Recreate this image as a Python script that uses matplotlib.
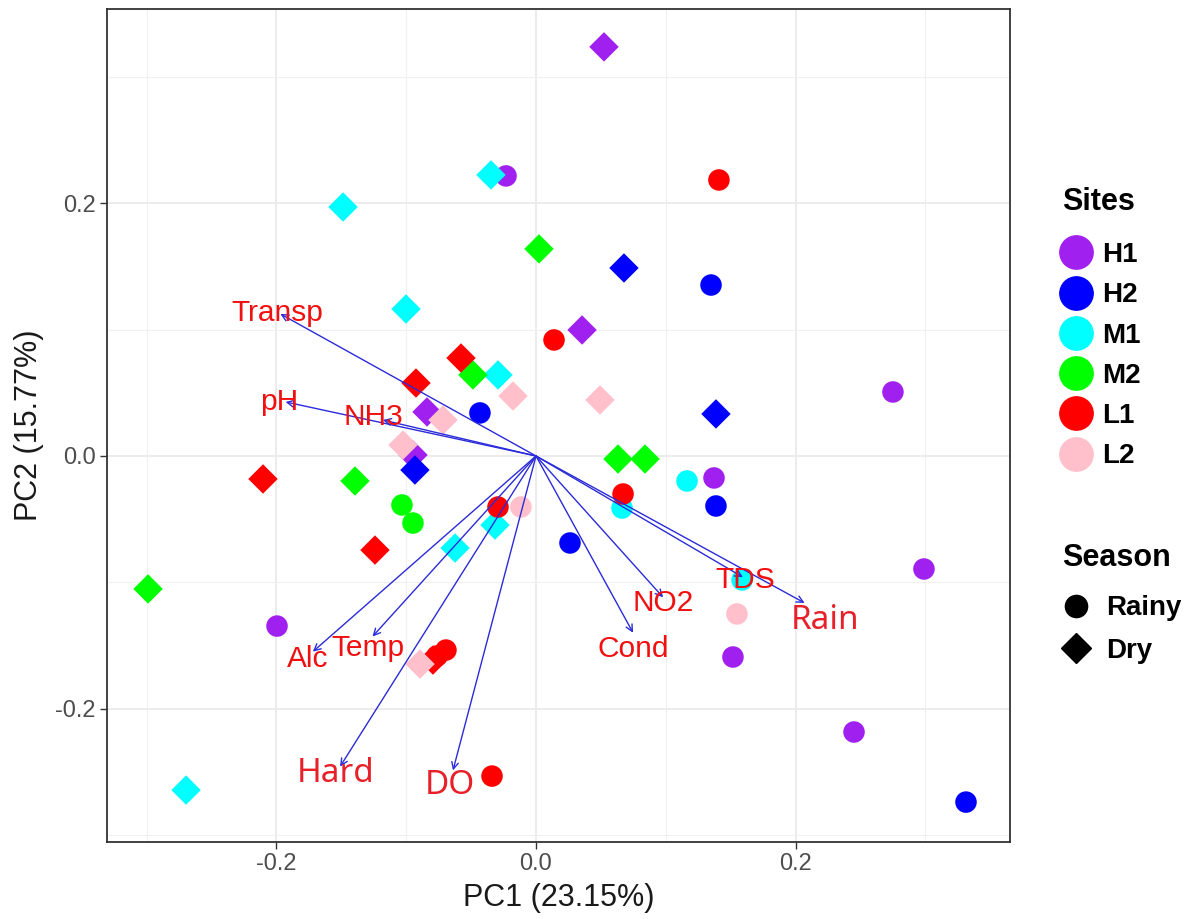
import matplotlib
matplotlib.use("Agg")
import matplotlib.pyplot as plt
from matplotlib.lines import Line2D

plt.rcParams["font.family"] = ["Liberation Sans", "DejaVu Sans"]

# site scores (PC1, PC2) per site and season
SITES = ["H1", "H2", "M1", "M2", "L1", "L2"]
SITE_COLORS = ["#A020F0", "#0000FF", "#00FFFF", "#00FF00", "#FF0000", "#FFC0CB"]

rainy_x = {
    "H1": [-0.0231, 0.2751, 0.1372, 0.2990, -0.1996, 0.1518, 0.2451],
    "H2": [0.1349, -0.0432, 0.1387, 0.0262, 0.3314],
    "M1": [0.1164, 0.0663, 0.1588],
    "M2": [-0.1033, -0.0948],
    "L1": [0.1410, 0.0139, 0.0671, -0.0293, -0.0694, -0.0763, -0.0339],
    "L2": [-0.0116, 0.1549],
}
rainy_y = {
    "H1": [0.2218, 0.0507, -0.0174, -0.0895, -0.1347, -0.1592, -0.2186],
    "H2": [0.1354, 0.0341, -0.0396, -0.0689, -0.2741],
    "M1": [-0.0198, -0.0412, -0.0982],
    "M2": [-0.0388, -0.0531],
    "L1": [0.2186, 0.0919, -0.0301, -0.0404, -0.1537, -0.1584, -0.2535],
    "L2": [-0.0404, -0.1251],
}
dry_x = {
    "H1": [0.0524, 0.0355, -0.0840, -0.0948],
    "H2": [0.0678, 0.1387, -0.0933],
    "M1": [-0.0347, -0.1487, -0.1002, -0.0293, -0.0316, -0.0624, -0.2697],
    "M2": [0.0023, -0.0486, 0.0632, 0.0840, -0.1395, -0.2990],
    "L1": [-0.0578, -0.0925, -0.2104, -0.1241, -0.0794],
    "L2": [-0.0177, 0.0493, -0.0717, -0.1025, -0.0894],
}
dry_y = {
    "H1": [0.3240, 0.0998, 0.0349, 0.0008],
    "H2": [0.1489, 0.0333, -0.0111],
    "M1": [0.2226, 0.1972, 0.1164, 0.0642, -0.0547, -0.0729, -0.2646],
    "M2": [0.1640, 0.0642, -0.0024, -0.0024, -0.0198, -0.1053],
    "L1": [0.0776, 0.0578, -0.0182, -0.0745, -0.1616],
    "L2": [0.0475, 0.0444, 0.0285, 0.0087, -0.1648],
}

# variable loadings (arrow tips) and label positions
VARS = ["Transp", "pH", "NH3", "Alc", "Temp", "Hard", "DO", "Cond", "NO2", "TDS", "Rain"]
arrow_x = [-0.197, -0.193, -0.118, -0.172, -0.126, -0.151, -0.064, 0.0748, 0.098, 0.1595, 0.207]
arrow_y = [0.1125, 0.0428, 0.0285, -0.155, -0.143, -0.246, -0.249, -0.140, -0.112, -0.096, -0.1164]
label_x = [-0.1996, -0.1981, -0.1256, -0.1757, -0.1295, -0.1541, -0.0663, 0.0748, 0.0979, 0.1611, 0.2227]
label_y = [0.1133, 0.0428, 0.0309, -0.1608, -0.1521, -0.2511, -0.2606, -0.1529, -0.1164, -0.0982, -0.1299]
BIG_LABELS = ["Hard", "DO", "Rain"]

fig = plt.figure(figsize=(11.92, 9.19), dpi=100)
ax = fig.add_axes([0.0898, 0.0838, 0.7575, 0.9064])

circle_size = 15.5 ** 2
diamond_size = 15.0 ** 2
for site, col in zip(SITES, SITE_COLORS):
    ax.scatter(rainy_x[site], rainy_y[site], s=circle_size, marker="o",
               color=col, edgecolors="none", zorder=3)
    ax.scatter(dry_x[site], dry_y[site], s=diamond_size, marker="D",
               color=col, edgecolors="none", zorder=3)

for name, ax_, ay_, lx, ly in zip(VARS, arrow_x, arrow_y, label_x, label_y):
    ax.annotate("", xy=(ax_, ay_), xytext=(0, 0),
                arrowprops=dict(arrowstyle="->", color="#2b2bd9", lw=1.0,
                                mutation_scale=12, shrinkA=0, shrinkB=0),
                zorder=4)
    if name in BIG_LABELS:
        ax.text(lx, ly, name, color="#e8202a", fontsize=24, family="Noto Sans",
                ha="center", va="center", zorder=5)
    else:
        ax.text(lx, ly, name, color="#f01010", fontsize=21.5, ha="center",
                va="center", zorder=5)

ax.set_xlim(-0.3306, 0.3653)
ax.set_ylim(-0.3057, 0.354)
ax.set_xticks([-0.2, 0.0, 0.2])
ax.set_yticks([-0.2, 0.0, 0.2])
ax.set_xticklabels(["-0.2", "0.0", "0.2"])
ax.set_yticklabels(["-0.2", "0.0", "0.2"])
ax.set_xticks([-0.3, -0.1, 0.1, 0.3], minor=True)
ax.set_yticks([-0.3, -0.1, 0.1, 0.3], minor=True)
ax.grid(True, which="major", color="#ebebeb", lw=1.3, zorder=0)
ax.grid(True, which="minor", color="#f0f0f0", lw=0.8, zorder=0)
ax.set_axisbelow(True)
ax.tick_params(which="major", length=5, width=1, color="#333333",
               labelsize=17, labelcolor="#4d4d4d", pad=3)
ax.tick_params(which="minor", length=0)
for sp in ax.spines.values():
    sp.set_color("#333333")
    sp.set_linewidth(1.3)

ax.set_xlabel("PC1 (23.15%)", fontsize=22, color="#1a1a1a", labelpad=6)
ax.set_ylabel("PC2 (15.77%)", fontsize=22, color="#1a1a1a", labelpad=8)

site_handles = [Line2D([], [], marker="o", ls="", color=c, markersize=24)
                for c in SITE_COLORS]
leg1 = fig.legend(site_handles, SITES, title="Sites", loc="upper left",
                  bbox_to_anchor=(0.891, 0.796), frameon=False,
                  prop=dict(size=20, weight="bold"),
                  title_fontproperties=dict(size=22, weight="bold"),
                  alignment="left", handlelength=1.0, handletextpad=0.45,
                  labelspacing=0.515, borderaxespad=0, borderpad=0)
leg1._legend_box.sep = 17.6
season_handles = [Line2D([], [], marker="o", ls="", color="black", markersize=16),
                  Line2D([], [], marker="D", ls="", color="black", markersize=15)]
leg2 = fig.legend(season_handles, ["Rainy", "Dry"], title="Season", loc="upper left",
                  bbox_to_anchor=(0.891, 0.409), frameon=False,
                  prop=dict(size=20, weight="bold"),
                  title_fontproperties=dict(size=22, weight="bold"),
                  alignment="left", handlelength=1.0, handletextpad=0.6,
                  labelspacing=0.59, borderaxespad=0, borderpad=0)
leg2._legend_box.sep = 16

fig.savefig("out.png", dpi=100)
